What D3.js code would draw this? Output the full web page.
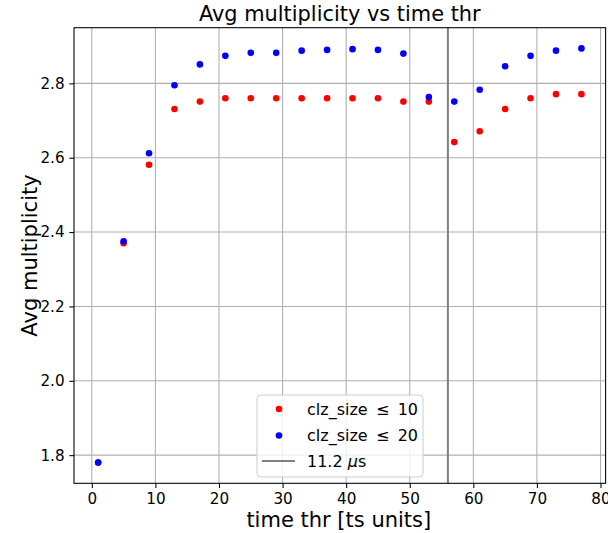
<!DOCTYPE html>
<html>
<head>
<meta charset="utf-8">
<script src="https://cdn.jsdelivr.net/npm/d3@7"></script>
<style>
  html, body { margin: 0; padding: 0; background: #fff; }
  svg { display: block; font-family: "DejaVu Sans", sans-serif; }
</style>
</head>
<body>
<svg id="chart" width="608" height="533"></svg>
<script>
// ---- data ----
const timeThr = [1, 5, 9, 13, 17, 21, 25, 29, 33, 37, 41, 45, 49, 53, 57, 61, 65, 69, 73, 77];
const clz10 = [1.78, 2.37, 2.581, 2.731, 2.751, 2.760, 2.760, 2.760, 2.760, 2.760, 2.760, 2.760, 2.751, 2.751, 2.642, 2.671, 2.731, 2.760, 2.771, 2.771];
const clz20 = [1.78, 2.375, 2.612, 2.795, 2.851, 2.874, 2.882, 2.882, 2.888, 2.890, 2.892, 2.890, 2.880, 2.763, 2.751, 2.783, 2.846, 2.874, 2.888, 2.894];
const xTicks = [0, 10, 20, 30, 40, 50, 60, 70, 80];
const yTicks = [1.8, 2.0, 2.2, 2.4, 2.6, 2.8];
const vLineX = 56;
const seriesNames = ["clz_size \u2009\u2264\u2009 10", "clz_size \u2009\u2264\u2009 20"];
const seriesColors = ["#ff0000", "#0000ff"];
const titleText = "Avg multiplicity vs time thr";
const xLabelText = "time thr [ts units]";
const yLabelText = "Avg multiplicity";

// ---- layout ----
const svg = d3.select("#chart");
const L = 74, R = 605.6, T = 27.7, B = 483.3;
const x = d3.scaleLinear().domain([-2.8, 80.8]).range([L, R]);
const y = d3.scaleLinear().domain([1.7243, 2.9497]).range([B, T]);

// grid
const grid = svg.append("g");
grid.selectAll(".gx").data(xTicks).join("line")
  .attr("x1", d => x(d)).attr("x2", d => x(d))
  .attr("y1", T).attr("y2", B)
  .attr("stroke", "#b0b0b0").attr("stroke-width", 1.07);
grid.selectAll(".gy").data(yTicks).join("line")
  .attr("x1", L).attr("x2", R)
  .attr("y1", d => y(d)).attr("y2", d => y(d))
  .attr("stroke", "#b0b0b0").attr("stroke-width", 1.07);

// vertical line
svg.append("line")
  .attr("x1", x(vLineX)).attr("x2", x(vLineX))
  .attr("y1", T).attr("y2", B)
  .attr("stroke", "#808080").attr("stroke-width", 2);

// axes
const xAxis = d3.axisBottom(x).tickValues(xTicks).tickSize(4.7).tickPadding(4.7).tickFormat(d3.format("d"));
const yAxis = d3.axisLeft(y).tickValues(yTicks).tickSize(4.7).tickPadding(4.7).tickFormat(d3.format(".1f"));
const gx = svg.append("g").attr("transform", `translate(0,${B})`).call(xAxis);
const gy = svg.append("g").attr("transform", `translate(${L},0)`).call(yAxis);
[gx, gy].forEach(g => {
  g.select(".domain").remove();
  g.selectAll(".tick line").attr("stroke", "#000").attr("stroke-width", 1.07);
  g.selectAll(".tick text").attr("fill", "#000").style("font-size", "15.2px").style("font-family", "DejaVu Sans, sans-serif");
});
gx.selectAll(".tick text").attr("dy", null).attr("y", 21);

// points
const series = [clz10, clz20];
series.forEach((vals, i) => {
  svg.append("g").selectAll("circle").data(vals).join("circle")
    .attr("cx", (d, j) => x(timeThr[j]))
    .attr("cy", d => y(d))
    .attr("r", 3.3)
    .attr("fill", seriesColors[i]);
});

// frame
svg.append("rect").attr("x", L).attr("y", T).attr("width", R - L).attr("height", B - T)
  .attr("fill", "none").attr("stroke", "#000").attr("stroke-width", 1.07);

// title & labels
svg.append("text").attr("x", (L + R) / 2).attr("y", 21).attr("text-anchor", "middle")
  .style("font-size", "20.9px").attr("fill", "#000").text(titleText);
svg.append("text").attr("x", (L + R) / 2 - 1).attr("y", 526.7).attr("text-anchor", "middle")
  .style("font-size", "21px").attr("fill", "#000").text(xLabelText);
svg.append("text").attr("transform", `translate(36.5,${(T + B) / 2}) rotate(-90)`).attr("text-anchor", "middle")
  .style("font-size", "21px").attr("fill", "#000").text(yLabelText);

// legend
const lg = svg.append("g");
lg.append("rect").attr("x", 257).attr("y", 395).attr("width", 166).attr("height", 82)
  .attr("rx", 4).attr("fill", "#fff").attr("fill-opacity", 0.8)
  .attr("stroke", "#cccccc").attr("stroke-width", 1);
const rowsY = [409, 435.5, 461];
seriesNames.forEach((name, i) => {
  lg.append("circle").attr("cx", 279).attr("cy", rowsY[i]).attr("r", 3.3).attr("fill", seriesColors[i]);
  lg.append("text").attr("x", 307).attr("y", rowsY[i]).attr("dy", "0.35em")
    .style("font-size", "16px").attr("fill", "#000").attr("xml:space", "preserve").text(name);
});
lg.append("line").attr("x1", 262).attr("x2", 295).attr("y1", rowsY[2]).attr("y2", rowsY[2])
  .attr("stroke", "#808080").attr("stroke-width", 2);
const t3 = lg.append("text").attr("x", 307).attr("y", rowsY[2]).attr("dy", "0.35em")
  .style("font-size", "16px").attr("fill", "#000");
t3.append("tspan").text("11.2 ");
t3.append("tspan").style("font-style", "italic").text("\u03bc");
t3.append("tspan").text("s");
</script>
</body>
</html>
